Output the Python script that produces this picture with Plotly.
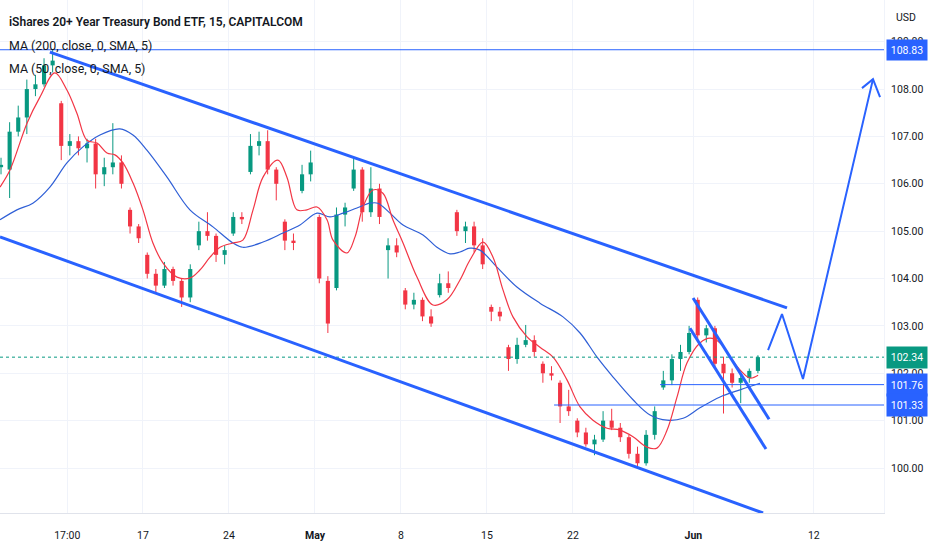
import numpy as np
import plotly.graph_objects as go

# x is counted in trading days from Mon 17 Apr (weekends / 29 May skipped), two bars a day
bar_day = np.arange(89) * 0.5 - 8.25

opens = [106.35, 106.3, 107.1, 107.4, 108.0, 108.1, 108.5, 107.7, 106.8, 106.9,
         106.75, 106.85, 106.2, 106.35, 106.45, 105.45, 105.1, 104.5, 104.1, 103.85,
         104.2, 103.95, 103.6, 104.7, 105.0, 104.9, 104.5, 104.95, 105.3, 106.25,
         106.8, 106.9, 106.3, 105.2, 104.8, 105.85, 106.2, 105.3, 103.95, 103.8,
         105.35, 105.9, 106.3, 105.4, 105.9, 104.6, 104.7, 103.75, 103.45, 103.55,
         103.2, 103.65, 103.9, 105.4, 105.0, 105.1, 104.7, 103.4, 103.3, 102.55,
         102.3, 102.6, 102.7, 102.2, 102.0, 101.8, 101.3, 101.0, 100.75, 100.5,
         100.6, 101.0, 100.85, 100.65, 100.3, 100.1, 100.7, 101.7, 101.85, 102.3,
         102.45, 103.55, 102.8, 102.95, 102.2, 102.0, 101.8, 101.9, 102.05]
highs = [106.55, 107.3, 107.65, 108.2, 108.3, 108.65, 108.83, 107.75, 107.05, 107.0,
         106.95, 106.95, 106.55, 107.28, 106.6, 105.5, 105.15, 104.55, 104.2, 104.35,
         104.25, 104.0, 104.3, 105.2, 105.4, 104.95, 104.7, 105.4, 105.4, 107.05,
         107.1, 107.13, 106.35, 105.25, 104.95, 106.4, 106.7, 105.35, 104.05, 105.5,
         105.6, 106.55, 106.35, 106.35, 106.0, 104.85, 104.85, 103.8, 103.7, 103.6,
         103.35, 104.1, 104.15, 105.45, 105.2, 105.2, 104.85, 103.45, 103.4, 102.6,
         102.75, 103.02, 102.8, 102.25, 102.15, 101.85, 101.65, 101.05, 100.85, 100.7,
         101.2, 101.25, 100.95, 100.7, 100.45, 100.8, 101.3, 102.05, 102.4, 102.6,
         103.0, 103.6, 103.02, 103.0, 102.35, 102.1, 102.0, 102.1, 102.38]
lows = [106.2, 105.7, 107.0, 107.05, 107.85, 108.05, 108.35, 106.5, 106.6, 106.6,
        106.45, 105.9, 105.95, 106.2, 105.9, 104.95, 104.75, 104.0, 103.7, 103.8,
        103.85, 103.4, 103.5, 104.6, 104.8, 104.35, 104.3, 104.9, 105.15, 106.2,
        106.6, 106.2, 105.65, 104.6, 104.6, 105.8, 106.05, 103.9, 102.85, 103.75,
        105.1, 105.85, 105.2, 105.3, 105.15, 104.0, 104.45, 103.35, 103.35, 103.1,
        102.98, 103.6, 103.7, 104.9, 104.75, 104.55, 104.2, 103.1, 103.1, 102.05,
        102.2, 102.55, 102.35, 101.8, 101.85, 100.95, 101.1, 100.65, 100.45, 100.27,
        100.55, 100.8, 100.55, 100.2, 99.98, 100.05, 100.6, 101.65, 101.75, 102.05,
        102.4, 102.7, 102.65, 102.1, 101.15, 101.7, 101.37, 101.8, 102.0]
closes = [106.4, 107.1, 107.4, 108.0, 108.1, 108.5, 108.6, 106.8, 106.9, 106.75,
          106.85, 106.2, 106.35, 106.45, 106.0, 105.1, 104.85, 104.1, 103.85, 104.2,
          103.95, 103.6, 104.2, 105.0, 104.9, 104.5, 104.6, 105.3, 105.25, 106.8,
          106.9, 106.3, 106.0, 104.8, 104.75, 106.2, 106.45, 104.0, 103.05, 105.35,
          105.5, 106.3, 105.4, 105.9, 105.3, 104.7, 104.55, 103.45, 103.55, 103.2,
          103.05, 103.9, 103.8, 105.0, 105.1, 104.7, 104.3, 103.3, 103.2, 102.3,
          102.6, 102.7, 102.45, 102.0, 101.95, 101.3, 101.2, 100.75, 100.5, 100.6,
          101.0, 100.85, 100.65, 100.3, 100.1, 100.7, 101.2, 101.85, 102.3, 102.45,
          102.85, 102.8, 102.95, 102.2, 102.0, 101.8, 101.9, 102.05, 102.34]

# MA (50) and MA (200)
ma50_day = [-8.31, -7.73, -6.74, -5.99, -5.12, -4.42, -3.84, -3.26, -2.67, -2.09,
            -1.63, -1.16, -0.58, 0.0, 0.58, 1.16, 1.98, 2.73, 3.31, 3.9,
            4.48, 5.23, 5.81, 6.4, 6.98, 7.85, 8.37, 8.95, 9.53, 10.12,
            10.7, 11.05, 11.86, 12.33, 12.79, 13.37, 13.95, 14.53, 15.12, 15.93,
            16.86, 17.67, 18.43, 19.01, 19.77, 20.35, 20.93, 21.51, 22.33, 23.08,
            23.84, 24.65, 25.41, 26.16, 26.98, 27.73, 28.49, 29.3, 29.88, 30.47,
            31.05, 31.63, 32.38, 32.97, 33.55, 34.13, 34.71, 35.29, 35.76]
ma50_val = [105.93, 106.29, 107.28, 107.83, 108.34, 107.98, 107.49, 106.92, 106.86, 106.65,
            106.61, 106.44, 106.02, 105.45, 104.75, 104.33, 104.03, 104.01, 104.18, 104.45,
            104.66, 104.75, 104.81, 105.45, 106.14, 106.5, 106.14, 105.45, 105.45, 105.51,
            105.24, 104.81, 104.54, 104.88, 105.51, 105.87, 105.8, 105.24, 104.75, 104.03,
            103.44, 103.55, 103.97, 104.39, 104.77, 104.45, 103.76, 103.19, 102.77, 102.55,
            102.34, 101.86, 101.29, 101.01, 100.84, 100.8, 100.66, 100.44, 100.42, 100.8,
            101.5, 102.22, 102.64, 102.74, 102.64, 102.34, 102.07, 101.9, 101.96]
ma200_day = [-8.31, -7.33, -6.4, -5.41, -4.42, -3.49, -2.5, -1.34, -0.58, 0.23,
             1.4, 2.73, 4.07, 5.23, 5.81, 6.98, 8.14, 9.13, 10.12, 10.87,
             11.63, 12.44, 13.2, 13.66, 14.36, 15.12, 16.28, 17.09, 17.85, 18.43,
             19.01, 19.59, 20.58, 21.74, 23.08, 24.42, 25.41, 26.4, 27.33, 28.49,
             29.48, 30.47, 31.4, 32.38, 33.55, 34.71, 35.87]
ma200_val = [105.24, 105.45, 105.59, 105.93, 106.44, 106.78, 107.03, 107.16, 107.03, 106.71,
             106.14, 105.45, 105.09, 104.75, 104.66, 104.77, 104.96, 105.13, 105.38, 105.3,
             105.38, 105.49, 105.59, 105.59, 105.38, 105.13, 104.92, 104.66, 104.52, 104.56,
             104.64, 104.6, 104.24, 103.82, 103.48, 103.19, 102.85, 102.34, 101.92, 101.44,
             101.12, 101.01, 101.05, 101.27, 101.5, 101.65, 101.79]

# hand-drawn lines (day, price)
channel_top = [(-5.41, 108.78), (37.44, 103.38)]
channel_bottom = [(-8.31, 104.88), (36.05, 99.05)]
flag_top = [(31.98, 103.59), (36.4, 101.03)]
flag_bottom = [(31.8, 102.95), (36.22, 100.4)]
zigzag = [(36.34, 102.49), (37.15, 103.25), (38.37, 101.88), (42.44, 108.21)]
arrow_head = [(41.8, 108.02), (42.44, 108.21), (42.85, 107.83)]
level_lines = [(-8.31, 108.83), (23.9, 101.33), (30.06, 101.76)]
last_price = 102.34

tick_day = [-4.4, 0, 5, 10, 15, 20, 25, 32, 39]
tick_text = ["17:00", "17", "24", "<b>May</b>", "8", "15", "22", "<b>Jun</b>", "12"]

X_MIN, X_MAX = -8.31, 43.08
BLUE = "#2962FF"
UP, DOWN = "#089981", "#F23645"

fig = go.Figure()

# candles: thin bodies as bars, wicks as line segments
o = np.array(opens)
c = np.array(closes)
is_up = c >= o
for mask, col in [(is_up, UP), (~is_up, DOWN)]:
    wx, wy = [], []
    for d, lo, hi in zip(bar_day[mask], np.array(lows)[mask], np.array(highs)[mask]):
        wx += [d, d, None]
        wy += [lo, hi, None]
    fig.add_trace(go.Scatter(x=wx, y=wy, mode="lines", line=dict(color=col, width=1), hoverinfo="skip"))
    fig.add_trace(go.Bar(x=bar_day[mask], base=np.minimum(o, c)[mask],
                         y=np.maximum(np.abs(c - o), 0.03)[mask], width=0.24,
                         marker=dict(color=col, line=dict(width=0)), hoverinfo="skip"))

fig.add_trace(go.Scatter(x=ma200_day, y=ma200_val, mode="lines", line=dict(color="#2f5fd6", width=1.2, shape="spline")))
fig.add_trace(go.Scatter(x=ma50_day, y=ma50_val, mode="lines", line=dict(color=DOWN, width=1.2, shape="spline")))

# current price line
fig.add_trace(go.Scatter(x=[X_MIN, X_MAX], y=[last_price, last_price], mode="lines",
                         line=dict(color=UP, width=1, dash="dot")))

# horizontal levels
for d, p in level_lines:
    fig.add_trace(go.Scatter(x=[d, X_MAX], y=[p, p], mode="lines", line=dict(color=BLUE, width=1)))

for seg, w in [(channel_top, 3), (channel_bottom, 3), (flag_top, 3), (flag_bottom, 3),
               (zigzag, 2), (arrow_head, 2)]:
    fig.add_trace(go.Scatter(x=[a for a, b in seg], y=[b for a, b in seg], mode="lines",
                             line=dict(color=BLUE, width=w)))

font = "Roboto"
ann = [
    dict(text="iShares 20+ Year Treasury Bond ETF, 15, CAPITALCOM", yshift=-22, size=12, weight=600),
    dict(text="MA (200, close, 0, SMA, 5)", yshift=-45, size=12.4, weight=400),
    dict(text="MA (50, close, 0, SMA, 5)", yshift=-68, size=12.4, weight=400),
]
for a in ann:
    fig.add_annotation(text=a["text"], xref="paper", yref="paper", x=0, y=1, xshift=7,
                       yshift=a["yshift"], xanchor="left", yanchor="middle", showarrow=False,
                       font=dict(family=font, size=a["size"], color="#131722", weight=a["weight"]))

fig.add_annotation(text="USD", xref="paper", yref="paper", x=1, y=1, xshift=22, yshift=-17,
                   xanchor="center", yanchor="middle", showarrow=False,
                   font=dict(family=font, size=10.5, color="#131722"))

# price tags on the axis
for p, col, h in [(108.83, BLUE, 18), (last_price, UP, 19), (101.76, BLUE, 20), (101.33, BLUE, 20)]:
    fig.add_annotation(text=f"{p:.2f}", xref="paper", yref="y", x=1, y=p, xshift=2,
                       xanchor="left", yanchor="middle", showarrow=False, width=38, height=h,
                       bgcolor=col, borderpad=1, font=dict(family=font, size=10.5, color="white"))

fig.update_layout(
    width=932, height=550, margin=dict(l=0, r=48, t=0, b=37, autoexpand=False),
    paper_bgcolor="white", plot_bgcolor="white", showlegend=False, hovermode=False,
    barmode="overlay",
    xaxis=dict(range=[X_MIN, X_MAX], tickvals=tick_day, ticktext=tick_text, automargin=False,
               showgrid=True, gridcolor="#f0f3fa",
               showline=True, linecolor="#e0e3eb", zeroline=False,
               ticks="outside", ticklen=12, tickcolor="rgba(0,0,0,0)",
               tickfont=dict(family=font, size=10.5, color="#131722")),
    yaxis=dict(range=[99.05, 109.88], side="right", dtick=1, tick0=100, tickformat=".2f",
               automargin=False, showgrid=True, gridcolor="#f0f3fa", zeroline=False,
               showline=True, linecolor="#f0f3fa", ticks="outside", ticklen=4,
               tickcolor="rgba(0,0,0,0)",
               tickfont=dict(family=font, size=10.5, color="#131722")),
)

# the page body has a default 8px margin; drop it so the chart fills the window
fig.write_html("out.html", config=dict(displayModeBar=False),
               post_script="document.body.style.margin='0px';")
